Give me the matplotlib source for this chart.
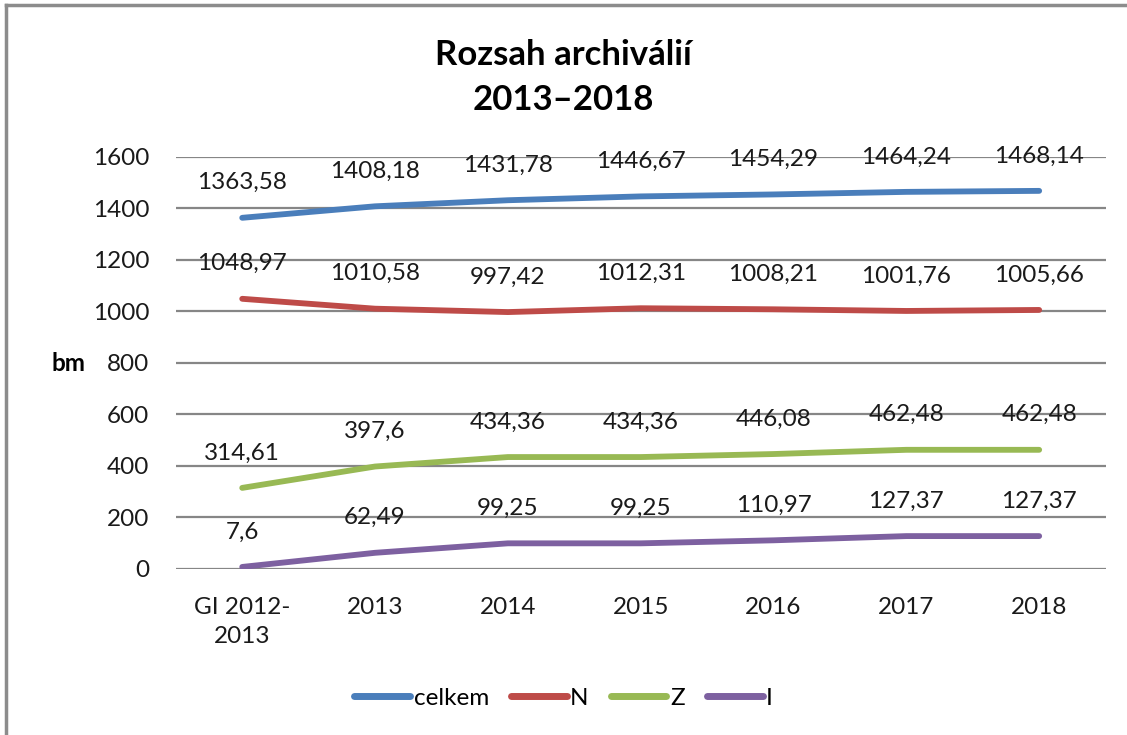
"""
Rozsah archiválií 2013–2018 - line chart with data labels.
"""
import matplotlib
matplotlib.use('Agg')
import matplotlib.pyplot as plt
from matplotlib.lines import Line2D

# data
categories = ['GI 2012-\n2013', '2013', '2014', '2015', '2016', '2017', '2018']
celkem = [1363.58, 1408.18, 1431.78, 1446.67, 1454.29, 1464.24, 1468.14]
n_vals = [1048.97, 1010.58, 997.42, 1012.31, 1008.21, 1001.76, 1005.66]
z_vals = [314.61, 397.6, 434.36, 434.36, 446.08, 462.48, 462.48]
i_vals = [7.6, 62.49, 99.25, 99.25, 110.97, 127.37, 127.37]
series_names = ['celkem', 'N', 'Z', 'I']
y_ticks = [0, 200, 400, 600, 800, 1000, 1200, 1400, 1600]

colors = {
    'celkem': '#4A7EBB',
    'N': '#BE4B48',
    'Z': '#98B954',
    'I': '#7D60A0',
    'grid': '#868686',
    'text': '#1a1a1a',
}

plt.rcParams['font.family'] = ['Lato', 'DejaVu Sans']
fs = 17.5

fig = plt.figure(figsize=(11.27, 7.35), dpi=100)
ax = fig.add_axes([0.156, 0.226, 0.825, 0.5605])

x = list(range(len(categories)))
for name, vals in zip(series_names, [celkem, n_vals, z_vals, i_vals]):
    ax.plot(x, vals, color=colors[name], linewidth=4.2,
            solid_capstyle='round', solid_joinstyle='round', zorder=3)
    for xi, v in zip(x, vals):
        label = ('%g' % v).replace('.', ',')
        ax.annotate(label, (xi, v), xytext=(0, 35), textcoords='offset pixels',
                    ha='center', va='center', fontsize=fs, color=colors['text'], zorder=4)

ax.set_xlim(-0.5, len(categories) - 0.5)
ax.set_ylim(0, 1600)
ax.set_yticks(y_ticks)
ax.set_yticklabels([str(t) for t in y_ticks], fontsize=fs, color=colors['text'])
ax.set_xticks(x)
ax.set_xticklabels(categories, fontsize=fs, linespacing=1.5, va='top', color=colors['text'])
ax.tick_params(length=0, pad=19, axis='y')
ax.tick_params(length=0, pad=20, axis='x')
for s in ax.spines.values():
    s.set_visible(False)
ax.grid(axis='y', color=colors['grid'], linewidth=1.6, zorder=1)
ax.set_axisbelow(True)

fig.text(0.061, 0.506, 'bm', fontsize=fs, fontweight='bold', ha='center', va='center')
fig.text(0.5, 0.894, 'Rozsah archiválií\n2013\u20132018', fontsize=25, fontweight='bold',
         ha='center', va='center', linespacing=1.5)

handles = [Line2D([0], [0], color=colors[n], linewidth=5, solid_capstyle='round')
           for n in series_names]
fig.legend(handles, series_names, loc='center', bbox_to_anchor=(0.5, 0.05), ncol=4,
           frameon=False, fontsize=fs, handlelength=2.3, handletextpad=0.15,
           columnspacing=0.9)

# chart frame (top and left edges visible)
fig.add_artist(Line2D([0.005, 0.005], [0, 0.993], color='#8c8c8c', linewidth=2.5,
                      transform=fig.transFigure))
fig.add_artist(Line2D([0.005, 1], [0.993, 0.993], color='#8c8c8c', linewidth=2.5,
                      transform=fig.transFigure))

fig.savefig('out.png', dpi=100)
